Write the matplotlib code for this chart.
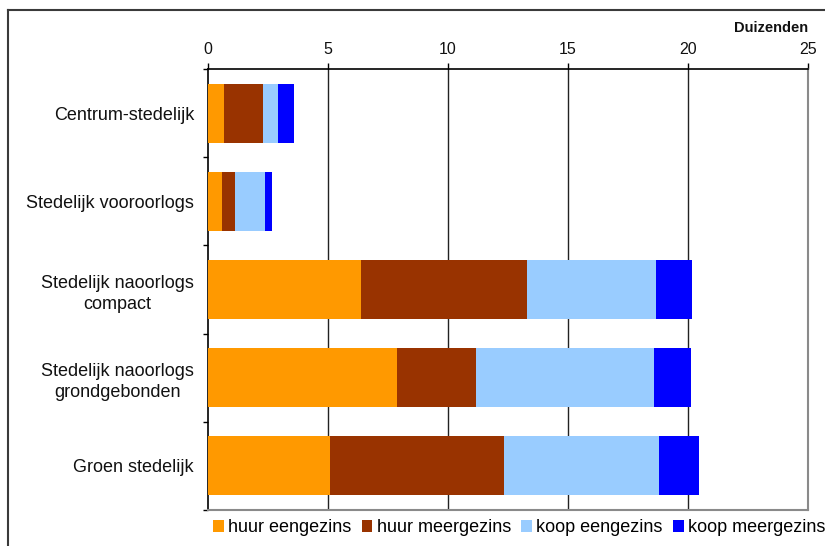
import matplotlib
matplotlib.use("Agg")
import matplotlib.pyplot as plt
from matplotlib.patches import Patch
from matplotlib.lines import Line2D

plt.rcParams['font.family'] = ['Liberation Sans', 'DejaVu Sans']

categories = [
    "Centrum-stedelijk",
    "Stedelijk vooroorlogs",
    "Stedelijk naoorlogs\ncompact",
    "Stedelijk naoorlogs\ngrondgebonden",
    "Groen stedelijk",
]
series_names = ["huur eengezins", "huur meergezins", "koop eengezins", "koop meergezins"]
huur_eengezins = [0.65, 0.58, 6.37, 7.87, 5.08]
huur_meergezins = [1.65, 0.54, 6.93, 3.30, 7.25]
koop_eengezins = [0.60, 1.25, 5.37, 7.41, 6.46]
koop_meergezins = [0.70, 0.30, 1.50, 1.54, 1.67]
x_ticks = [0, 5, 10, 15, 20, 25]
unit_label = "Duizenden"

colors = ["#FF9900", "#993300", "#99CCFF", "#0000FF"]
series = [huur_eengezins, huur_meergezins, koop_eengezins, koop_meergezins]

W, H = 825, 546
fig = plt.figure(figsize=(W / 100, H / 100), dpi=100)
ax = fig.add_axes([208 / W, 1 - 510 / H, 600 / W, (510 - 69) / H])

pos = [i + 0.5 for i in range(len(categories))]
left = [0.0] * len(categories)
for vals, col in zip(series, colors):
    ax.barh(pos, vals, left=left, height=0.67, color=col, edgecolor="none", zorder=3)
    left = [a + b for a, b in zip(left, vals)]

ax.set_xlim(0, 25)
ax.set_ylim(len(categories), 0)

# x axis on top
ax.xaxis.set_ticks_position("top")
ax.xaxis.set_label_position("top")
ax.set_xticks(x_ticks)
ax.set_xticklabels([str(t) for t in x_ticks], fontsize=11.5, color="#111111")
ax.tick_params(axis="x", which="major", direction="out", length=4.3, width=1,
               color="black", pad=4.5)

# vertical gridlines
for t in x_ticks[1:-1]:
    ax.axvline(t, color="#222222", linewidth=1, zorder=1)

# category boundaries as major ticks, labels on minor ticks
ax.set_yticks(range(len(categories) + 1))
ax.set_yticklabels([])
ax.set_yticks(pos, minor=True)
ax.set_yticklabels(categories, minor=True, fontsize=13, color="#111111",
                   multialignment="center", linespacing=1.35)
ax.tick_params(axis="y", which="major", direction="out", length=3.6, width=1, color="black")
ax.tick_params(axis="y", which="minor", length=0, pad=10)

for side in ["top", "left"]:
    ax.spines[side].set_color("black")
    ax.spines[side].set_linewidth(1.2)
for side in ["bottom", "right"]:
    ax.spines[side].set_color("#8a8a8a")
    ax.spines[side].set_linewidth(1.5)

fig.text(808 / W, 1 - 28 / H, unit_label, ha="right", va="center",
         fontsize=10.5, fontweight="bold", color="#111111")

handles = [Patch(facecolor=c, edgecolor="none") for c in colors]
fig.legend(handles, series_names, loc="center left",
           bbox_to_anchor=(213 / W, 1 - 528 / H), ncol=4, frameon=False,
           fontsize=13, handlelength=0.6, handleheight=0.6,
           handletextpad=0.25, columnspacing=0.55, borderaxespad=0, borderpad=0)

# outer frame
frame_col = "#3a3a3a"
fig.add_artist(Line2D([8 / W, 8 / W], [0, 1 - 10 / H], transform=fig.transFigure,
                      color=frame_col, linewidth=1.5))
fig.add_artist(Line2D([8 / W, 1], [1 - 10 / H, 1 - 10 / H], transform=fig.transFigure,
                      color=frame_col, linewidth=1.5))

fig.savefig("out.png", dpi=100)
